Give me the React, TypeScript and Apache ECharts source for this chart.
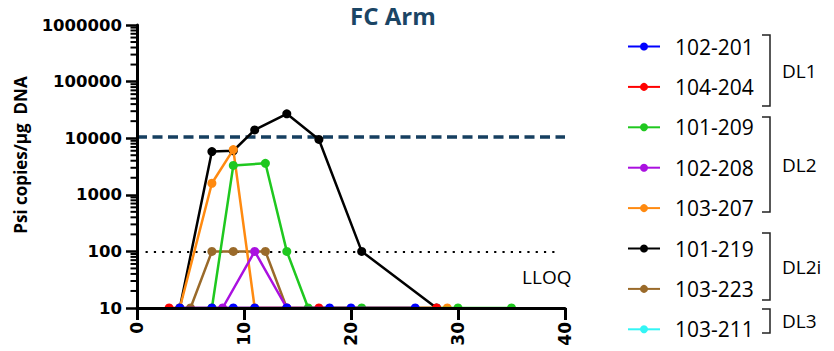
import React, { useEffect, useRef } from "react";
import * as echarts from "echarts";

// ---------- data ----------
const seriesNames = ["102-201", "104-204", "101-209", "102-208", "103-207", "101-219", "103-223", "103-211"];
const seriesColors = ["#0000ff", "#ff0000", "#1fc81f", "#aa10e0", "#ff8a10", "#000000", "#9a6a2a", "#33f5f5"];

const days_102_201 = [4, 7, 9, 11, 14, 18, 20, 26];
const vals_102_201 = [10, 10, 10, 10, 10, 10, 10, 10];

const days_104_204 = [3, 17, 28];
const vals_104_204 = [10, 10, 10];

const days_101_209 = [7, 9, 12, 14, 16, 21, 30, 35];
const vals_101_209 = [10, 3300, 3600, 100, 10, 10, 10, 10];

const days_102_208 = [8, 11, 14];
const vals_102_208 = [10, 100, 10];

const days_103_207 = [4, 7, 9, 11, 29];
const vals_103_207 = [10, 1600, 6300, 10, 10];

const days_101_219 = [4, 7, 9, 11, 14, 17, 21, 28];
const vals_101_219 = [10, 5800, 6000, 14000, 27000, 9500, 100, 10];

const days_103_223 = [5, 7, 9, 12, 14];
const vals_103_223 = [10, 100, 100, 100, 10];

const days_103_211: number[] = [];
const vals_103_211: number[] = [];

const allDays = [days_102_201, days_104_204, days_101_209, days_102_208, days_103_207, days_101_219, days_103_223, days_103_211];
const allVals = [vals_102_201, vals_104_204, vals_101_209, vals_102_208, vals_103_207, vals_101_219, vals_103_223, vals_103_211];

const xTicks = [0, 10, 20, 30, 40];
const yDecades = [10, 100, 1000, 10000, 100000, 1000000];
const minorSteps = [2, 3, 4, 5, 6, 7, 8, 9];

const thresholdValue = 10500; // dashed line
const lloqValue = 100; // dotted line
const lloqStart = 0.8;
const lloqEnd = 39.3;
const lloqLabelPos = [38.3, 35];

const groups = [
  { label: "DL1", top: 35, bottom: 106 },
  { label: "DL2", top: 117, bottom: 212 },
  { label: "DL2i", top: 233, bottom: 300 },
  { label: "DL3", top: 309, bottom: 333 },
];

export default function App() {
  const ref = useRef<HTMLDivElement>(null);
  useEffect(() => {
    document.body.style.margin = "0";
    if (!ref.current) return;
    const chart = echarts.init(ref.current, null, { renderer: "svg" });

    const minorTicks: number[][] = [];
    for (let i = 0; i < yDecades.length - 1; i++) {
      for (const s of minorSteps) minorTicks.push([0, yDecades[i] * s]);
    }

    const lineSeries = seriesNames.map((name, i) => ({
      name,
      type: "line",
      data: allDays[i].map((d, k) => [d, allVals[i][k]]),
      symbol: "circle",
      symbolSize: 9,
      lineStyle: { width: 2.5, color: seriesColors[i] },
      itemStyle: { color: seriesColors[i] },
      z: 20 - i,
      clip: false,
    }));

    const labelFont = "DejaVu Sans";
    const textFont = "Open Sans";

    const graphic: any[] = [
      {
        type: "text",
        x: 20,
        y: 155,
        rotation: Math.PI / 2,
        style: {
          text: "Psi copies/\u03bcg  DNA",
          font: `bold 17px "${textFont}"`,
          fill: "#000",
          align: "center",
          verticalAlign: "middle",
        },
      },
      {
        type: "rect",
        z: 25,
        shape: { x: 138.5, y: 309.5, width: 440, height: 11 },
        style: { fill: "#fff" },
        silent: true,
      },
    ];
    groups.forEach((g) => {
      graphic.push({
        type: "polyline",
        shape: { points: [[762, g.top], [770, g.top], [770, g.bottom], [762, g.bottom]] },
        style: { stroke: "#222", lineWidth: 1.5, fill: null },
      });
      graphic.push({
        type: "text",
        x: 782,
        y: (g.top + g.bottom) / 2,
        style: {
          text: g.label,
          font: `19px "${textFont}"`,
          fill: "#000",
          align: "left",
          verticalAlign: "middle",
        },
      });
    });

    chart.setOption({
      animation: false,
      title: {
        text: "FC Arm",
        left: 345,
        top: -2,
        textStyle: { fontFamily: textFont, fontWeight: "bold", fontSize: 24, color: "#1b4565" },
      },
      grid: { left: 137, right: 269, top: 25, bottom: 43, containLabel: false },
      legend: {
        orient: "vertical",
        left: 622,
        top: 31,
        itemWidth: 32,
        itemHeight: 10,
        itemGap: 19.4,
        data: seriesNames,
        textStyle: { fontFamily: textFont, fontSize: 21, color: "#000", lineHeight: 20, padding: [0, 0, 0, 10] },
      },
      xAxis: {
        type: "value",
        min: xTicks[0],
        max: xTicks[xTicks.length - 1],
        interval: 10,
        z: 30,
        axisLine: { show: true, onZero: false, lineStyle: { color: "#000", width: 3 } },
        axisTick: { show: true, length: 12, lineStyle: { color: "#000", width: 3 } },
        axisLabel: {
          rotate: 90,
          margin: 14,
          fontFamily: labelFont,
          fontWeight: "bold",
          fontSize: 17,
          color: "#000",
        },
        splitLine: { show: false },
      },
      yAxis: {
        type: "log",
        logBase: 10,
        min: yDecades[0],
        max: yDecades[yDecades.length - 1],
        z: 30,
        axisLine: { show: true, lineStyle: { color: "#000", width: 3 } },
        axisTick: { show: true, length: 11, lineStyle: { color: "#000", width: 2.5 } },
        axisLabel: {
          margin: 15,
          fontFamily: labelFont,
          fontWeight: "bold",
          fontSize: 16.5,
          color: "#000",
          formatter: (v: number) => String(Math.round(v)),
        },
        splitLine: { show: false },
        minorTick: { show: false },
      },
      graphic,
      series: [
        ...lineSeries,
        {
          name: "refLines",
          type: "line",
          data: [],
          z: 1,
          markLine: {
            silent: true,
            symbol: ["none", "none"],
            label: { show: false },
            data: [
              { yAxis: thresholdValue, lineStyle: { color: "#163f60", width: 3.5, type: [10, 5.5] } },
              [
                { coord: [lloqStart, lloqValue], lineStyle: { color: "#000", width: 2.2, type: [2.2, 6.1] } },
                { coord: [lloqEnd, lloqValue] },
              ],
            ],
          },
          markPoint: {
            silent: true,
            symbol: "circle",
            symbolSize: 1,
            itemStyle: { color: "rgba(0,0,0,0)" },
            data: [
              {
                coord: lloqLabelPos,
                label: {
                  show: true,
                  position: "inside",
                  formatter: "LLOQ",
                  fontFamily: textFont,
                  fontSize: 19,
                  color: "#000",
                },
              },
            ],
          },
        },
        {
          name: "minorTicks",
          type: "custom",
          coordinateSystem: "cartesian2d",
          data: minorTicks,
          clip: false,
          silent: true,
          z: 30,
          renderItem: (params: any, api: any) => {
            const p = api.coord([0, api.value(1)]);
            return {
              type: "line",
              shape: { x1: p[0] - 6.5, y1: p[1], x2: p[0], y2: p[1] },
              style: { stroke: "#000", lineWidth: 2 },
            };
          },
        },
      ],
    });
    return () => chart.dispose();
  }, []);
  return <div ref={ref} style={{ width: 834, height: 351 }} />;
}
